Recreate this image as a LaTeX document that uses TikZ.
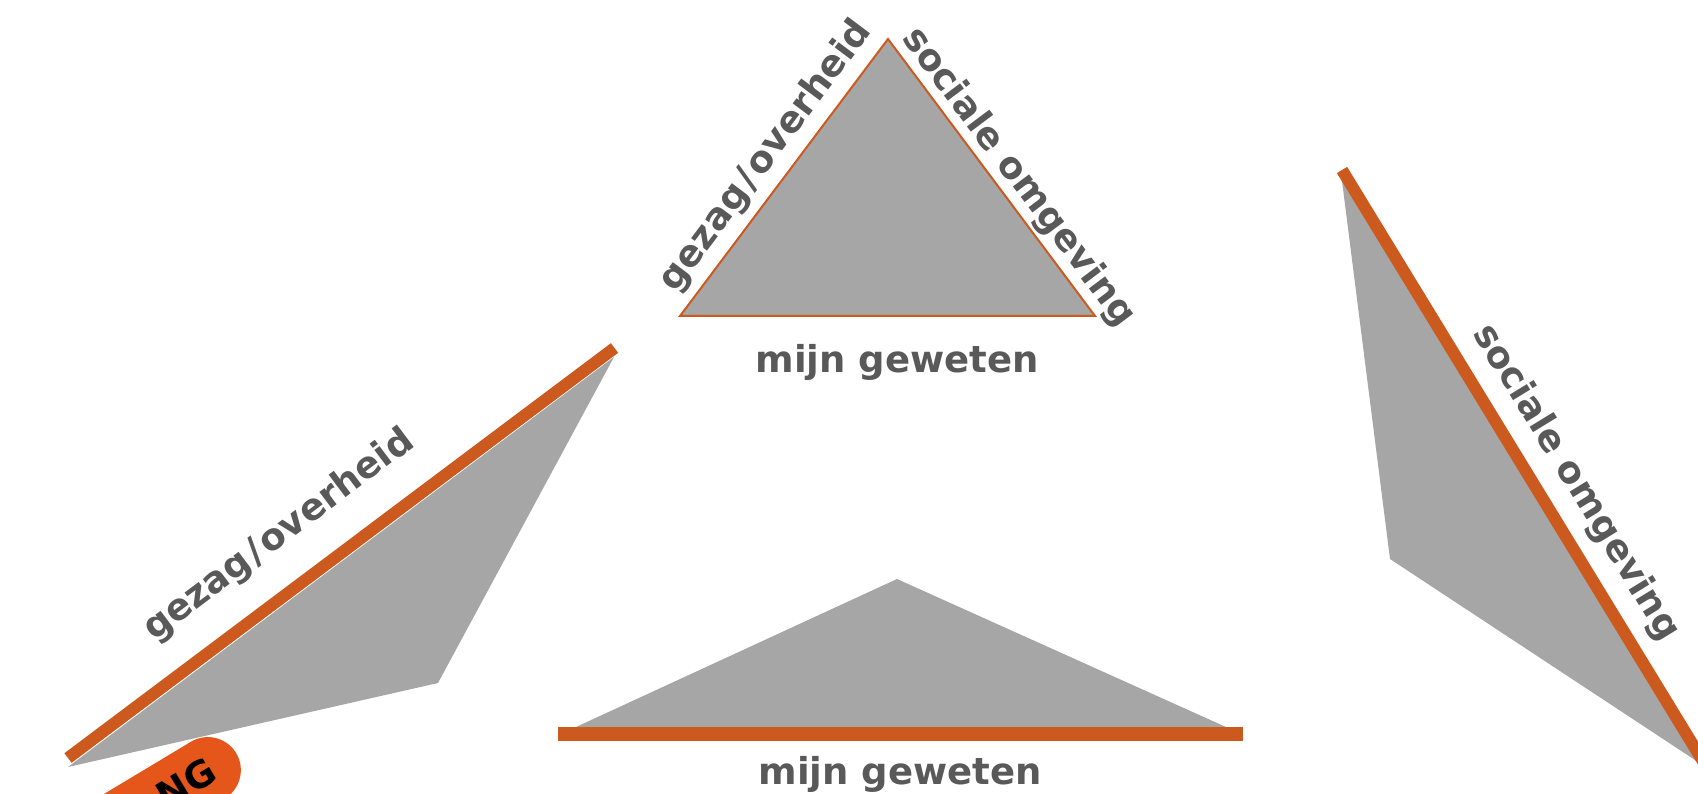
\documentclass[tikz,border=0pt]{standalone}
\usepackage{fontspec}
\setmainfont{DejaVu Sans}
\usetikzlibrary{calc}
\definecolor{lineorange}{RGB}{204,90,30}
\definecolor{pillorange}{RGB}{229,86,27}
\definecolor{fillgray}{RGB}{166,166,166}
\definecolor{textgray}{RGB}{89,89,89}
\begin{document}
\begin{tikzpicture}[x=1pt,y=-1pt,
  grayshape/.style={fill=fillgray, draw=none},
  thickedge/.style={draw=lineorange, line width=12pt, line cap=butt},
  edgetext/.style={font=\bfseries\fontsize{37}{44}\selectfont, text=textgray, inner sep=0pt, anchor=base},
  pillshape/.style={fill=pillorange, draw=none, rounded corners=33pt, minimum width=330pt, minimum height=66pt, inner sep=0pt},
  pilltextstyle/.style={font=\bfseries\fontsize{37}{44}\selectfont, text=black, inner sep=0pt}
]
\useasboundingbox (0,0) rectangle (1698,794);
\clip (0,0) rectangle (1698,794);

% ---------- top triangle ----------
\coordinate (tA) at (888,39);
\coordinate (tL) at (680,316);
\coordinate (tR) at (1095,316);
\filldraw[fill=fillgray, draw=lineorange, line width=2pt, line join=miter] (tA) -- (tR) -- (tL) -- cycle;
\node[edgetext, rotate=53.1] (tgezag) at (774.2,162.3) {gezag\kern3pt/\kern3pt overheid};
\node[edgetext, rotate=-53.1] (tsociaal) at (1010,183.5) {sociale omgeving};
\node[edgetext] (tgeweten) at (897,373) {mijn geweten};

% ---------- left shape ----------
\coordinate (lG1) at (68,767);
\coordinate (lG2) at (614,357);
\coordinate (lG3) at (438,683);
\coordinate (lS) at (68,758);
\coordinate (lE) at (614.5,348);
\fill[grayshape] (lG1) -- (lG2) -- (lG3) -- cycle;
\draw[thickedge] (lS) -- (lE);
\node[edgetext, rotate=36.9] (lgezag) at (285.3,543.5) {gezag\kern3pt/\kern3pt overheid};

% ---------- bottom shape ----------
\coordinate (bL) at (576,727);
\coordinate (bA) at (897,579);
\coordinate (bR) at (1226,727);
\coordinate (bS) at (558,734);
\coordinate (bE) at (1243,734);
\fill[grayshape] (bL) -- (bA) -- (bR) -- cycle;
\draw[thickedge, line width=13.5pt] (bS) -- (bE);
\node[edgetext] (bgeweten) at (900,784) {mijn geweten};

% ---------- right shape ----------
\coordinate (rG1) at (1342,181);
\coordinate (rG2) at (1390,559);
\coordinate (rG3) at (1698,762);
\coordinate (rG4) at (1712,785);
\coordinate (rS) at (1342,170);
\coordinate (rE) at (1712,776);
\fill[grayshape] (rG1) -- (rG2) -- (rG3) -- (rG4) -- cycle;
\draw[thickedge] (rS) -- (rE);
\node[edgetext, rotate=-58.5] (rsociaal) at (1567.2,488.2) {sociale omgeving};

% ---------- orange pill (cut off) ----------
\node[pillshape, rotate=31, anchor=east] (pill) at (236.3,753) {};
\node[pilltextstyle, rotate=31, anchor=east] (pilltext) at (212.7,767.2) {NG};
\end{tikzpicture}
\end{document}
